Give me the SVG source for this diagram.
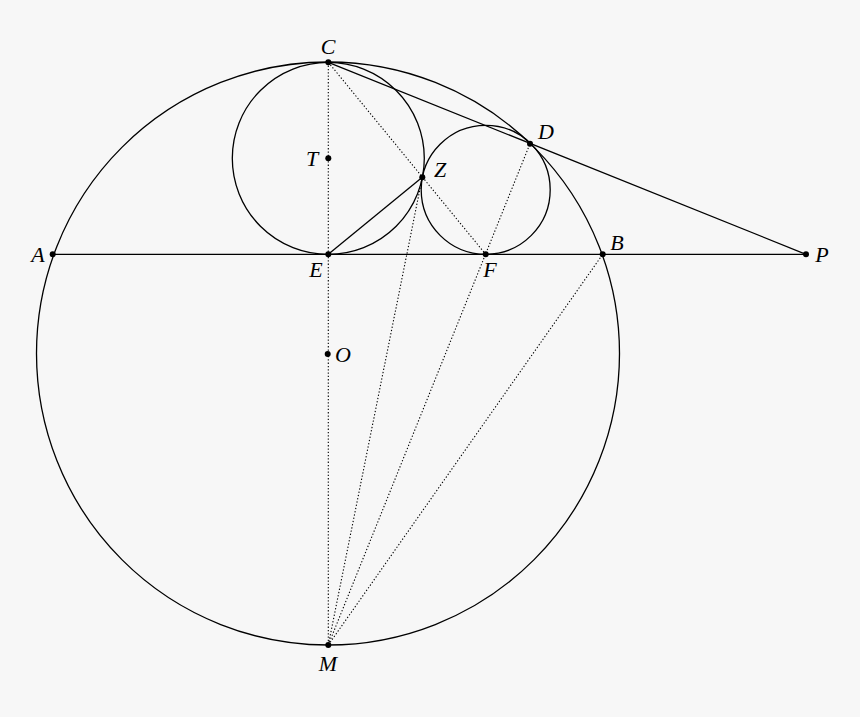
<svg xmlns="http://www.w3.org/2000/svg" width="860" height="717" viewBox="0 0 860 717">
<style>
.s{fill:none;stroke:#000;stroke-width:1.3}
.d{fill:none;stroke:#000;stroke-width:1.1;stroke-dasharray:1.3 2}
.p{fill:#000}
text{font-family:"Liberation Serif","DejaVu Serif",serif;font-style:italic;font-size:22px;fill:#000}
</style>
<rect width="860" height="717" fill="#f7f7f7"/>
<g id="circles">
<circle id="circleO" class="s" cx="328" cy="353.5" r="291.5"/>
<circle id="circleT" class="s" cx="328.3" cy="158.3" r="96"/>
<circle id="circleF" class="s" cx="485.7" cy="189.8" r="64.5"/>
</g>
<g id="connectors">
<line class="s" x1="52.7" y1="254.3" x2="806" y2="254.3"/>
<line class="s" x1="328.3" y1="62.3" x2="806" y2="254.3"/>
<line class="s" x1="328.3" y1="254.3" x2="422.3" y2="177.3"/>
<line class="d" x1="328.3" y1="62.3" x2="328.3" y2="645"/>
<line class="d" x1="328.3" y1="62.3" x2="485.7" y2="254.3"/>
<line class="d" x1="328.3" y1="645" x2="422.3" y2="177.3"/>
<line class="d" x1="328.3" y1="645" x2="530" y2="143.7"/>
<line class="d" x1="328.3" y1="645" x2="602.7" y2="254.3"/>
</g>
<g id="C"><circle class="p" cx="328.3" cy="62.3" r="3"/><text x="328" y="54" text-anchor="middle">C</text></g>
<g id="T"><circle class="p" cx="328.3" cy="158.3" r="3"/><text x="312" y="166" text-anchor="middle">T</text></g>
<g id="Z"><circle class="p" cx="422.3" cy="177.3" r="3"/><text x="440" y="177" text-anchor="middle">Z</text></g>
<g id="D"><circle class="p" cx="530" cy="143.7" r="3"/><text x="546" y="139" text-anchor="middle">D</text></g>
<g id="A"><circle class="p" cx="52.7" cy="254.3" r="3"/><text x="38" y="262" text-anchor="middle">A</text></g>
<g id="E"><circle class="p" cx="328.3" cy="254.3" r="3"/><text x="316" y="277" text-anchor="middle">E</text></g>
<g id="F"><circle class="p" cx="485.7" cy="254.3" r="3"/><text x="490" y="277" text-anchor="middle">F</text></g>
<g id="B"><circle class="p" cx="602.7" cy="254.3" r="3"/><text x="617" y="250" text-anchor="middle">B</text></g>
<g id="P"><circle class="p" cx="806" cy="254.3" r="3"/><text x="822" y="262" text-anchor="middle">P</text></g>
<g id="O"><circle class="p" cx="327.7" cy="354" r="3"/><text x="343" y="362" text-anchor="middle">O</text></g>
<g id="M"><circle class="p" cx="328.3" cy="645" r="3"/><text x="328" y="671" text-anchor="middle">M</text></g>
</svg>
